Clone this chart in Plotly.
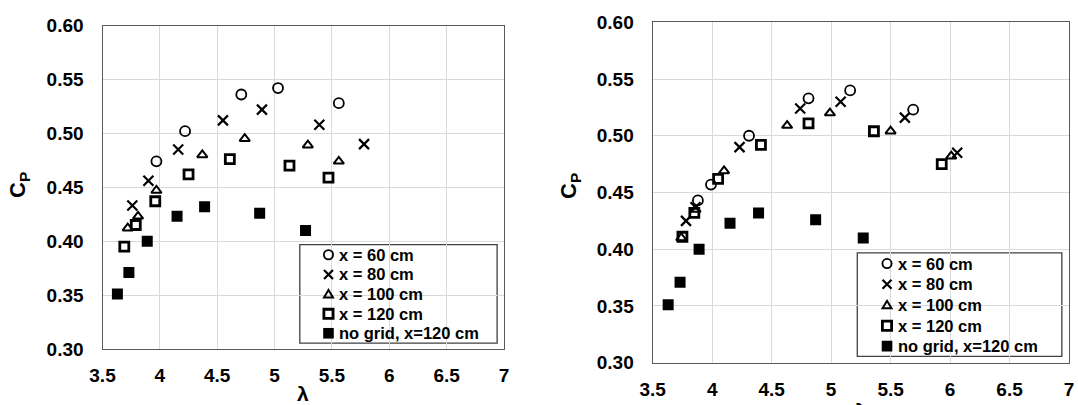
import plotly.graph_objects as go

# ---------------- data ----------------
# left panel
lam60_L = [3.97, 4.22, 4.71, 5.03, 5.56]
cp60_L = [0.474, 0.502, 0.536, 0.542, 0.528]
lam80_L = [3.76, 3.90, 4.16, 4.55, 4.89, 5.39, 5.78]
cp80_L = [0.433, 0.456, 0.485, 0.512, 0.522, 0.508, 0.490]
lam100_L = [3.72, 3.81, 3.97, 4.37, 4.74, 5.29, 5.56]
cp100_L = [0.412, 0.423, 0.447, 0.480, 0.495, 0.489, 0.474]
lam120_L = [3.69, 3.79, 3.96, 4.25, 4.61, 5.13, 5.47]
cp120_L = [0.395, 0.415, 0.437, 0.462, 0.476, 0.470, 0.459]

# no-grid reference series (same in both panels)
lam_nogrid = [3.63, 3.73, 3.89, 4.15, 4.39, 4.87, 5.27]
cp_nogrid = [0.351, 0.371, 0.400, 0.423, 0.432, 0.426, 0.410]

# right panel
lam60_R = [3.88, 3.99, 4.31, 4.81, 5.16, 5.69]
cp60_R = [0.443, 0.457, 0.500, 0.533, 0.540, 0.523]
lam80_R = [3.78, 3.86, 4.23, 4.74, 5.08, 5.62, 6.06]
cp80_R = [0.425, 0.437, 0.490, 0.524, 0.530, 0.516, 0.485]
lam100_R = [3.74, 3.86, 4.10, 4.63, 4.99, 5.50, 6.01]
cp100_R = [0.410, 0.435, 0.469, 0.509, 0.520, 0.504, 0.482]
lam120_R = [3.75, 3.85, 4.05, 4.41, 4.81, 5.36, 5.93]
cp120_R = [0.411, 0.432, 0.462, 0.492, 0.511, 0.504, 0.475]

series_names = ["x = 60 cm", "x = 80 cm", "x = 100 cm", "x = 120 cm", "no grid, x=120 cm"]
x_ticks = [3.5, 4, 4.5, 5, 5.5, 6, 6.5, 7]
x_tick_text = ["3.5", "4", "4.5", "5", "5.5", "6", "6.5", "7"]
y_ticks = [0.30, 0.35, 0.40, 0.45, 0.50, 0.55, 0.60]
y_tick_text = ["0.30", "0.35", "0.40", "0.45", "0.50", "0.55", "0.60"]

# ---------------- styles ----------------
FONT = "Liberation Sans, Arial, sans-serif"
BLACK = "#000000"
styles = [
    dict(symbol="circle-open", size=10, color=BLACK, line=dict(width=1.8, color=BLACK)),
    dict(symbol="x-thin-open", size=10, color=BLACK, line=dict(width=2.2, color=BLACK)),
    dict(symbol="triangle-up-open", size=9, color=BLACK, line=dict(width=2, color=BLACK)),
    dict(symbol="square-open", size=9, color=BLACK, line=dict(width=2.8, color=BLACK)),
    dict(symbol="square", size=11, color=BLACK, line=dict(width=0, color=BLACK)),
]

fig = go.Figure()

left_sets = [(lam60_L, cp60_L), (lam80_L, cp80_L), (lam100_L, cp100_L),
             (lam120_L, cp120_L), (lam_nogrid, cp_nogrid)]
right_sets = [(lam60_R, cp60_R), (lam80_R, cp80_R), (lam100_R, cp100_R),
              (lam120_R, cp120_R), (lam_nogrid, cp_nogrid)]

for i, (xs, ys) in enumerate(left_sets):
    fig.add_trace(go.Scatter(x=xs, y=ys, mode="markers", name=series_names[i],
                             marker=styles[i], xaxis="x", yaxis="y", showlegend=False))
for i, (xs, ys) in enumerate(right_sets):
    fig.add_trace(go.Scatter(x=xs, y=ys, mode="markers", name=series_names[i],
                             marker=styles[i], xaxis="x2", yaxis="y2", showlegend=False))

W, H = 1078, 405
# plot areas in pixels
L = dict(x0=102.5, x1=504, y0=25.5, y1=349)
R = dict(x0=652.7, x1=1069, y0=22.3, y1=362.7)


def xdom(a):
    return [a["x0"] / W, a["x1"] / W]


def ydom(a):
    return [1 - a["y1"] / H, 1 - a["y0"] / H]


tickfont = dict(family=FONT, size=19, color=BLACK, weight="bold")
axis_common = dict(showgrid=True, gridcolor="#d9d9d9", gridwidth=1,
                   showline=True, linecolor="#595959", linewidth=1.3, mirror=True,
                   ticks="", zeroline=False, tickfont=tickfont, automargin=False)

xaxis_common = dict(axis_common, range=[3.5, 7], tickvals=x_ticks, ticktext=x_tick_text,
                    ticklabelstandoff=9)
yaxis_common = dict(axis_common, range=[0.30, 0.60], tickvals=y_ticks, ticktext=y_tick_text,
                    ticklabelstandoff=14)

# ---------------- legend boxes (in each panel's data frame) ----------------
leg_box_x = [5.22, 6.94]
leg_box_y = [0.3055, 0.3968]
leg_sym_x = 5.47
leg_txt_x = 5.545
leg_rows = [0.3874, 0.3691, 0.3510, 0.3326, 0.3146]

shapes = []
annotations = []
LEGFONT = dict(family=FONT, size=16.5, color=BLACK, weight="bold")


def key_shapes(xr, yr, yc, i):
    common = dict(xref=xr, yref=yr, xsizemode="pixel", ysizemode="pixel",
                  xanchor=leg_sym_x, yanchor=yc, layer="above")
    if i == 0:
        return [dict(common, type="circle", x0=-4.6, x1=4.6, y0=-4.6, y1=4.6,
                     line=dict(color=BLACK, width=1.8))]
    if i == 1:
        return [dict(common, type="path", path="M -4.5,-4.5 L 4.5,4.5 M -4.5,4.5 L 4.5,-4.5",
                     line=dict(color=BLACK, width=2.2))]
    if i == 2:
        return [dict(common, type="path", path="M -4.5,-3.5 L 4.5,-3.5 L 0,4 Z",
                     line=dict(color=BLACK, width=2))]
    if i == 3:
        return [dict(common, type="rect", x0=-4.6, x1=4.6, y0=-4.6, y1=4.6,
                     line=dict(color=BLACK, width=2.8))]
    return [dict(common, type="rect", x0=-5.3, x1=5.3, y0=-5.3, y1=5.3,
                 fillcolor=BLACK, line=dict(color=BLACK, width=0))]


for xr, yr in (("x", "y"), ("x2", "y2")):
    shapes.append(dict(type="rect", xref=xr, yref=yr,
                       x0=leg_box_x[0], x1=leg_box_x[1], y0=leg_box_y[0], y1=leg_box_y[1],
                       line=dict(color="#404040", width=1.3), fillcolor="white", layer="below"))
    for i, yc in enumerate(leg_rows):
        shapes += key_shapes(xr, yr, yc, i)
        annotations.append(dict(text=series_names[i], xref=xr, yref=yr, x=leg_txt_x, y=yc,
                                xanchor="left", yanchor="middle", showarrow=False,
                                font=LEGFONT))

TITLEFONT = dict(family=FONT, size=22, color=BLACK, weight="bold")
LAMFONT = dict(family=FONT, size=21, color=BLACK, weight="bold")
annotations += [
    dict(text="C<sub>P</sub>", textangle=-90, xref="paper", yref="paper",
         x=19 / W, y=1 - 185 / H, xanchor="center", yanchor="middle",
         showarrow=False, font=TITLEFONT),
    dict(text="C<sub>P</sub>", textangle=-90, xref="paper", yref="paper",
         x=570 / W, y=1 - 186 / H, xanchor="center", yanchor="middle",
         showarrow=False, font=TITLEFONT),
    dict(text="λ", xref="paper", yref="paper", x=303 / W, y=1 - 393 / H,
         xanchor="center", yanchor="middle", showarrow=False, font=LAMFONT),
    dict(text="λ", xref="paper", yref="paper", x=861 / W, y=1 - 410 / H,
         xanchor="center", yanchor="middle", showarrow=False, font=LAMFONT),
]

fig.update_layout(
    width=W, height=H,
    margin=dict(l=0, r=0, t=0, b=0),
    paper_bgcolor="white", plot_bgcolor="white",
    font=dict(family=FONT, color=BLACK),
    showlegend=False,
    xaxis=dict(xaxis_common, domain=xdom(L), anchor="y"),
    yaxis=dict(yaxis_common, domain=ydom(L), anchor="x"),
    xaxis2=dict(xaxis_common, domain=xdom(R), anchor="y2"),
    yaxis2=dict(yaxis_common, domain=ydom(R), anchor="x2"),
    shapes=shapes,
    annotations=annotations,
)

fig.write_html("out.html")
